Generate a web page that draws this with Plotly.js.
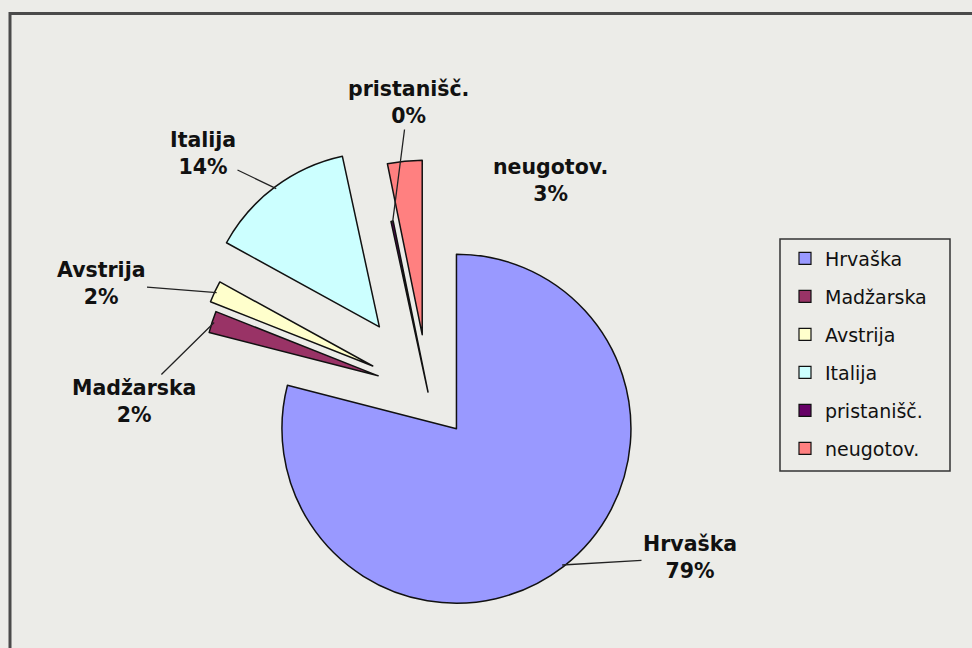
<!DOCTYPE html>
<html>
<head>
<meta charset="utf-8">
<script src="https://cdn.plot.ly/plotly-3.0.1.min.js"></script>
<style>
  html, body { margin: 0; padding: 0; background: #ECECE8; overflow: hidden; }
  #chart { width: 972px; height: 648px; }
</style>
</head>
<body>
<div id="chart"></div>
<script>
// ---- data ----
const labels = ['Hrvaška', 'Madžarska', 'Avstrija', 'Italija', 'pristanišč.', 'neugotov.'];
const values = [79.0, 2.0, 2.0, 13.6, 0.2, 3.2];
const colors = ['#9999FF', '#993366', '#FFFFCC', '#CCFFFF', '#660066', '#FF8080'];

// ---- layout / style settings ----
const W = 972, H = 648;
const pieGeom = { cx: 428, cy: 392, r: 174.5 };
const pulls = [0.266, 0.30, 0.35, 0.466, 0, 0.33];
// label text centres (px) and whether a leader line is drawn
const labelPos = [[690, 557.5], [134, 401.5], [101, 283.5], [203, 153.5], [408, 102.5], [550, 180.5]];
const leader = [true, true, true, true, true, false];
// legend frame (px)
const legendBox = { x0: 780, y0: 239, x1: 950, y1: 471 };

const maxPull = Math.max(...pulls);
const half = pieGeom.r * (1 + maxPull);
const total = values.reduce((a, b) => a + b, 0);

const traces = [{
  type: 'pie',
  labels: labels,
  values: values,
  sort: false,
  direction: 'clockwise',
  rotation: 0,
  pull: pulls,
  textinfo: 'none',
  hoverinfo: 'none',
  showlegend: false,
  marker: { colors: colors, line: { color: '#111111', width: 1.5 } },
  domain: {
    x: [(pieGeom.cx - half) / W, (pieGeom.cx + half) / W],
    y: [1 - (pieGeom.cy + half) / H, 1 - (pieGeom.cy - half) / H]
  }
}];

// legend entries (no data drawn)
labels.forEach((lab, i) => {
  traces.push({
    type: 'scatter', x: [null], y: [null], mode: 'markers', name: lab,
    legendgroup: 'g' + i, hoverinfo: 'skip',
    marker: { symbol: 'square', size: 12, color: colors[i], line: { color: '#111', width: 1.2 } }
  });
});

// data labels with leader lines computed from slice geometry
const labelFont = { family: 'DejaVu Sans', size: 20.5, color: '#111' };
const annotations = [];
let cum = 0;
values.forEach((v, i) => {
  const mid = (cum + v / 2) / total * 2 * Math.PI;
  cum += v;
  const rr = (1 + pulls[i]) * pieGeom.r - 2;
  const tx = pieGeom.cx + rr * Math.sin(mid);
  const ty = pieGeom.cy - rr * Math.cos(mid);
  const pct = Math.round(v / total * 100) + '%';
  const txt = '<b>' + labels[i] + '<br>' + pct + '</b>';
  const [lx, ly] = labelPos[i];
  if (leader[i]) {
    annotations.push({
      xref: 'paper', yref: 'paper', x: tx / W, y: 1 - ty / H,
      ax: lx - tx, ay: ly - ty, text: txt, showarrow: true,
      arrowhead: 0, arrowwidth: 1.3, arrowcolor: '#222', standoff: 0, startstandoff: 0,
      align: 'center', font: labelFont
    });
  } else {
    annotations.push({
      xref: 'paper', yref: 'paper', x: lx / W, y: 1 - ly / H,
      xanchor: 'center', yanchor: 'middle', text: txt, showarrow: false,
      align: 'center', font: labelFont
    });
  }
});

const layout = {
  width: W, height: H,
  margin: { l: 0, r: 0, t: 0, b: 0, pad: 0, autoexpand: false },
  paper_bgcolor: '#ECECE8', plot_bgcolor: 'rgba(0,0,0,0)',
  xaxis: { visible: false }, yaxis: { visible: false },
  showlegend: true,
  legend: {
    x: 785 / W, y: 1 - 239.5 / H, xanchor: 'left', yanchor: 'top',
    bgcolor: 'rgba(0,0,0,0)', borderwidth: 0,
    tracegroupgap: 10.3,
    font: { family: 'DejaVu Sans', size: 19, color: '#111' }
  },
  annotations: annotations,
  shapes: [{
    type: 'rect', xref: 'paper', yref: 'paper',
    x0: 10 / W, x1: 1.05, y0: -0.05, y1: 1 - 13.5 / H,
    line: { color: '#4a4a4a', width: 3 }, fillcolor: 'rgba(0,0,0,0)'
  }, {
    type: 'rect', xref: 'paper', yref: 'paper',
    x0: legendBox.x0 / W, x1: legendBox.x1 / W, y0: 1 - legendBox.y1 / H, y1: 1 - legendBox.y0 / H,
    line: { color: '#333', width: 1.5 }, fillcolor: 'rgba(0,0,0,0)'
  }],
  font: { family: 'DejaVu Sans' }
};

Plotly.newPlot('chart', traces, layout, { staticPlot: true, displayModeBar: false });
</script>
</body>
</html>
